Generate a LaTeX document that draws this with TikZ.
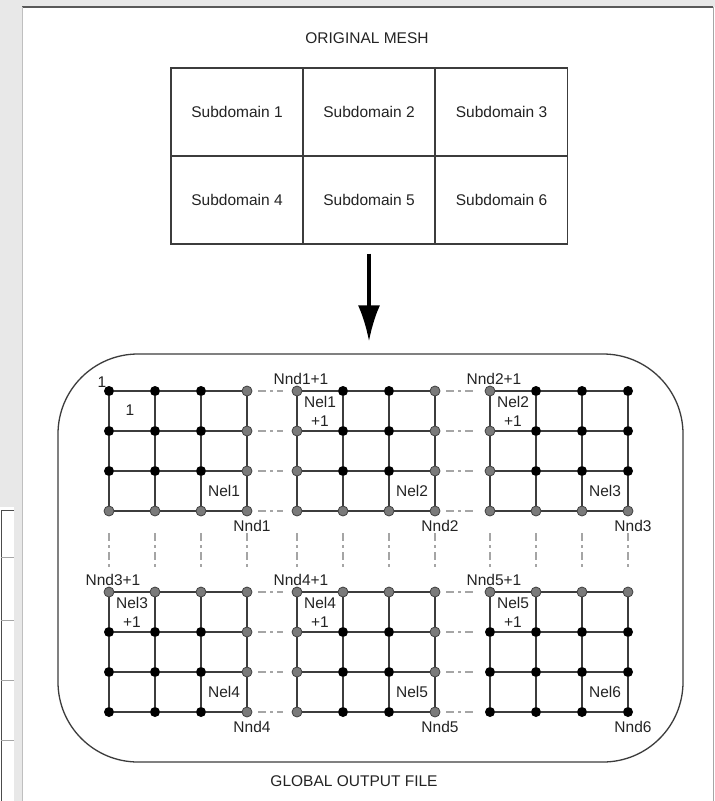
\documentclass[tikz,border=0pt]{standalone}
\usepackage{fontspec}
\setmainfont{Liberation Sans}
\usetikzlibrary{arrows.meta}

\definecolor{txt}{HTML}{232323}
\definecolor{linegray}{HTML}{3C3C3C}
\definecolor{nodegray}{HTML}{7A7A7A}
\definecolor{dashgray}{HTML}{A5A5A5}
\definecolor{backgray}{HTML}{E8E8E8}

\tikzset{
  cell/.style={draw=linegray, line width=1.4pt, minimum width=132.3pt, minimum height=88pt, inner sep=0pt},
  outbox/.style={draw=linegray, line width=1.3pt, rounded corners=80pt, minimum width=625pt, minimum height=408pt},
  blacknd/.style={circle, fill=black, inner sep=0pt, minimum size=10pt},
  graynd/.style={circle, fill=nodegray, draw=black!75, line width=0.8pt, inner sep=0pt, minimum size=10pt},
  meshline/.style={draw=linegray, line width=2pt},
  hlink/.style={draw=dashgray, line width=1.3pt, dash pattern=on 8pt off 4pt on 3pt off 4pt, shorten <=6pt, shorten >=9pt},
  vlink/.style={draw=dashgray, line width=1.3pt, dash pattern=on 8pt off 4pt on 3pt off 4pt, shorten <=17pt, shorten >=19pt},
  bigarrow/.style={line width=3.5pt, -{Latex[length=36pt,width=22pt]}, shorten <=9pt, shorten >=12pt},
  lbl/.style={inner sep=0pt, align=center}
}

\begin{document}
\begin{tikzpicture}[x=1pt, y=-1pt, font=\fontsize{15.5}{19}\selectfont, text=txt]
  \useasboundingbox (0,0) rectangle (715,801);

  % Page behind the figure
  \fill[backgray] (0,0) rectangle (715,801);
  \fill[white] (22,7) rectangle (715,801);
  \draw[black!65, line width=1.2pt] (22,7) -- (713,7);
  \draw[black!25, line width=1pt] (22,7) -- (22,801);
  \draw[black!35, line width=1pt] (713,7) -- (713,801);
  \fill[white] (0,507) rectangle (14,801);
  \draw[black!70, line width=1pt] (14,510) -- (1,510) -- (1,801);
  \foreach \ly in {557,620,680,740}
    \draw[black!35, line width=0.6pt] (1,\ly) -- (14,\ly);

  % Original mesh
  \node[lbl] (origtitle) at (367,38) {ORIGINAL MESH};
  \foreach \n/\cx/\cy in {1/237/112, 2/369/112, 3/501.5/112, 4/237/200, 5/369/200, 6/501.5/200}
    \node[cell] (sd\n) at (\cx,\cy) {Subdomain \n};

  % Global output file
  \node[outbox] (out) at (370.5,558) {};
  \draw[bigarrow] (sd5.south) -- (sd5.south |- out.north);
  \node[lbl] (globtitle) at (354,781) {GLOBAL OUTPUT FILE};

  % Partitions, shared nodes in gray
  \foreach \g/\gx/\gy/\cond in {1/109/391/(\i==3)||(\j==3), 2/297/391/(\i==0)||(\i==3)||(\j==3), 3/490/391/(\i==0)||(\j==3), 4/109/592/(\i==3)||(\j==0), 5/297/592/(\i==0)||(\i==3)||(\j==0), 6/490/592/(\j==0)} {
    \foreach \i in {0,...,3}
      \foreach \j in {0,...,3} {
        \pgfmathtruncatemacro\isgray{\cond}
        \ifnum\isgray=1 \def\ndstyle{graynd}\else\def\ndstyle{blacknd}\fi
        \node[\ndstyle] (g\g-\i-\j) at (\gx+46*\i, \gy+40*\j) {};
      }
    \foreach \k in {0,...,3} {
      \draw[meshline] (g\g-0-\k) -- (g\g-1-\k) -- (g\g-2-\k) -- (g\g-3-\k);
      \draw[meshline] (g\g-\k-0) -- (g\g-\k-1) -- (g\g-\k-2) -- (g\g-\k-3);
    }
    \node[lbl] (nel\g) at (\gx+115, \gy+100) {Nel\g};
    \node[lbl] (nnd\g) at (\gx+143, \gy+135) {Nnd\g};
  }

  % Offsets of the following partitions
  \foreach \g/\gx/\gy in {2/297/391, 3/490/391, 4/109/592, 5/297/592, 6/490/592} {
    \pgfmathtruncatemacro\prev{\g-1}
    \node[lbl] (nndnext\g) at (\gx+4, \gy-12) {Nnd\prev+1};
    \node[lbl] (nelnext\g) at (\gx+23, \gy+20) {Nel\prev\\+1};
  }
  \node[lbl] (firstnd) at (102,382) {1};
  \node[lbl] (firstel) at (130,410) {1};

  % Links between shared nodes
  \foreach \a/\b in {1/2, 2/3, 4/5, 5/6}
    \foreach \k in {0,...,3}
      \draw[hlink] (g\a-3-\k) -- (g\b-0-\k);
  \foreach \a/\b in {1/4, 2/5, 3/6}
    \foreach \k in {0,...,3}
      \draw[vlink] (g\a-\k-3) -- (g\b-\k-0);
\end{tikzpicture}
\end{document}
